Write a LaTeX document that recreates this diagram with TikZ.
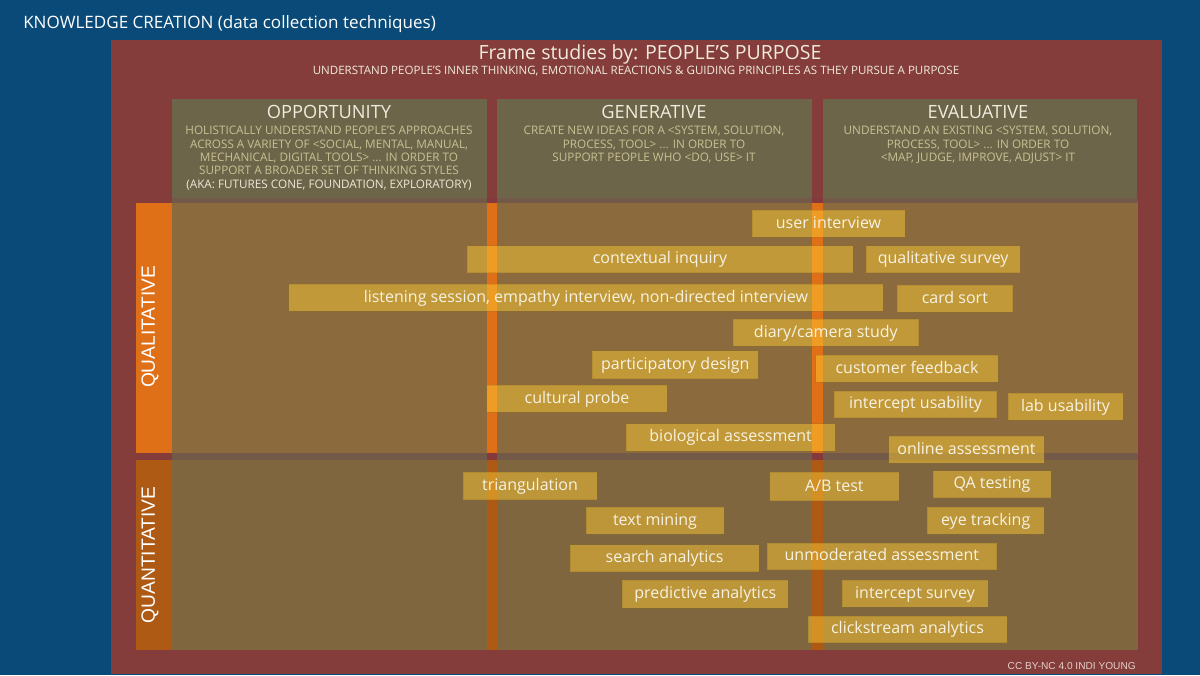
\documentclass[tikz,border=0pt]{standalone}
\usepackage{fontspec}
\setmainfont{Open Sans}
\newfontfamily\creditfont{Liberation Sans}
\definecolor{bgblue}{HTML}{0A4A78}
\definecolor{maroon}{HTML}{843D3A}
\definecolor{olive}{HTML}{6C6549}
\definecolor{tanA}{HTML}{8B6B3E}
\definecolor{tanB}{HTML}{7F663F}
\definecolor{bandc}{HTML}{735A48}
\definecolor{oranA}{HTML}{E07018}
\definecolor{oranB}{HTML}{AE5A14}
\definecolor{stripband}{HTML}{843A3C}
\definecolor{cardc}{HTML}{FFCC33}
\definecolor{cardtext}{HTML}{F7F2E2}
\definecolor{subtext}{HTML}{C9C193}
\definecolor{subwhite}{HTML}{EDE8D6}
\definecolor{headtext}{HTML}{F0EBDD}
\definecolor{credit}{HTML}{E3CFC8}
\tikzset{
  card/.style={fill=cardc,fill opacity=0.48,text opacity=1,draw=cardc!55!black,draw opacity=0.25,line width=0.4pt,
    inner sep=0pt,text=cardtext,font=\fontsize{12}{13}\selectfont,text height=9.8pt,text depth=3pt,align=center},
  colhead/.style={text=headtext,font=\fontsize{13.7}{16}\selectfont,inner sep=0pt},
  colbody/.style={text=subtext,font=\fontsize{8.8}{10}\selectfont,inner sep=0pt,align=center,anchor=north},
  rowlabel/.style={text=white,font=\creditfont\fontsize{14.4}{16}\selectfont,rotate=90,inner sep=0pt},
}
\newcommand{\cardbox}[6]{\node[card,minimum width={(#4-#2)*0.75pt},minimum height={(#5-#3)*0.75pt}] (#1) at ({(#2+#4)/2},{(#3+#5)/2}) {#6};}
\begin{document}
\begin{tikzpicture}[x=0.75pt,y=-0.75pt]
\useasboundingbox (0,0) rectangle (1200,675);
\fill[bgblue] (0,0) rectangle (1200,675);
\fill[maroon] (111,40) rectangle (1162,674);
% columns
\fill[olive] (172,98.5) rectangle (487,198);
\fill[olive] (497,98.5) rectangle (812,198);
\fill[olive] (822.5,98.5) rectangle (1137,198);
% rows
\fill[oranA] (136,202.5) rectangle (172,452.7);
\fill[oranB] (136,460) rectangle (172,649.5);
\fill[bandc] (172,197.5) rectangle (1138,202.5);
\fill[tanA] (172,202.5) rectangle (1138,453);
\fill[bandc] (172,453) rectangle (1138,460);
\fill[tanB] (172,460) rectangle (1138,649.7);
% strips
\fill[stripband] (486.5,197.5) rectangle (497,202.5);
\fill[stripband] (812,197.5) rectangle (823,202.5);
\fill[oranA] (486.5,202.5) rectangle (497,453);
\fill[oranA] (812,202.5) rectangle (823,453);
\fill[stripband] (486.5,453) rectangle (497,460);
\fill[stripband] (812,453) rectangle (823,460);
\fill[oranB] (486.5,460) rectangle (497,649.7);
\fill[oranB] (812,460) rectangle (823,649.7);
% titles
\node[anchor=west,inner sep=0pt,text=white,font=\fontsize{12.8}{16}\selectfont] (title) at (23,24.5) {KNOWLEDGE CREATION (data collection techniques)};
\node[inner sep=0pt,text=headtext,font=\fontsize{14.65}{16}\selectfont] (frame) at (650,54) {Frame studies by: PEOPLE’S PURPOSE};
\node[inner sep=0pt,text=headtext,font=\fontsize{8.66}{10}\selectfont] (frameSub) at (636,71) {UNDERSTAND PEOPLE’S INNER THINKING, EMOTIONAL REACTIONS \& GUIDING PRINCIPLES AS THEY PURSUE A PURPOSE};
% column text
\node[colhead] (opp) at (329,112) {OPPORTUNITY};
\node[colhead] (gen) at (654,112) {GENERATIVE};
\node[colhead] (eva) at (978,112) {EVALUATIVE};
\node[colbody] (oppT) at (329,126) {HOLISTICALLY UNDERSTAND PEOPLE’S APPROACHES\\ACROSS A VARIETY OF <SOCIAL, MENTAL, MANUAL,\\MECHANICAL, DIGITAL TOOLS> ... IN ORDER TO\\SUPPORT A BROADER SET OF THINKING STYLES\\\textcolor{subwhite}{(AKA: FUTURES CONE, FOUNDATION, EXPLORATORY)}};
\node[colbody] (genT) at (654,126) {CREATE NEW IDEAS FOR A <SYSTEM, SOLUTION,\\PROCESS, TOOL> ... IN ORDER TO\\SUPPORT PEOPLE WHO <DO, USE> IT};
\node[colbody] (evaT) at (978,126) {UNDERSTAND AN EXISTING <SYSTEM, SOLUTION,\\PROCESS, TOOL> ... IN ORDER TO\\<MAP, JUDGE, IMPROVE, ADJUST> IT};
% row labels
\node[rowlabel] (qual) at (150,327) {QUALITATIVE};
\node[rowlabel] (quant) at (150,555) {QUANTITATIVE};
% cards
\cardbox{c1}{752}{210}{905}{237}{user interview}
\cardbox{c2}{467}{245.7}{853}{272.7}{contextual inquiry}
\cardbox{c3}{866.3}{245.7}{1020}{272.7}{qualitative survey}
\cardbox{c4}{288.7}{284}{883}{311}{listening session, empathy interview, non-directed interview}
\cardbox{c5}{897}{285}{1012.7}{312}{card sort}
\cardbox{c6}{733}{319}{918.7}{346}{diary/camera study}
\cardbox{c7}{592.3}{350.7}{758.3}{378.7}{participatory design}
\cardbox{c8}{815.7}{355.3}{998.3}{382.3}{customer feedback}
\cardbox{c9}{486.7}{385}{667.3}{412.3}{cultural probe}
\cardbox{c10}{834.3}{391}{996.7}{417.7}{intercept usability}
\cardbox{c11}{1008}{393}{1123}{420}{lab usability}
\cardbox{c12}{626}{423.7}{835.3}{451}{biological assessment}
\cardbox{c13}{888.7}{436}{1044.3}{463}{online assessment}
\cardbox{c14}{463}{472.3}{597}{499.7}{triangulation}
\cardbox{c15}{769.7}{472.3}{899}{500.7}{A/B test}
\cardbox{c16}{933}{470.7}{1051}{497.7}{QA testing}
\cardbox{c17}{586}{507.3}{724}{534.3}{text mining}
\cardbox{c18}{927}{507.3}{1044.3}{534.3}{eye tracking}
\cardbox{c19}{570}{544.7}{759.3}{571.7}{search analytics}
\cardbox{c20}{767}{543}{996.7}{569.7}{unmoderated assessment}
\cardbox{c21}{622.3}{580.3}{788.3}{608.3}{predictive analytics}
\cardbox{c22}{842}{580.3}{988}{607.3}{intercept survey}
\cardbox{c23}{808}{616}{1007}{642.7}{clickstream analytics}
% credit
\node[anchor=east,inner sep=0pt,text=credit,font=\creditfont\fontsize{7.6}{9}\selectfont] (cc) at (1136,666) {CC BY-NC 4.0 INDI YOUNG};
\end{tikzpicture}
\end{document}
